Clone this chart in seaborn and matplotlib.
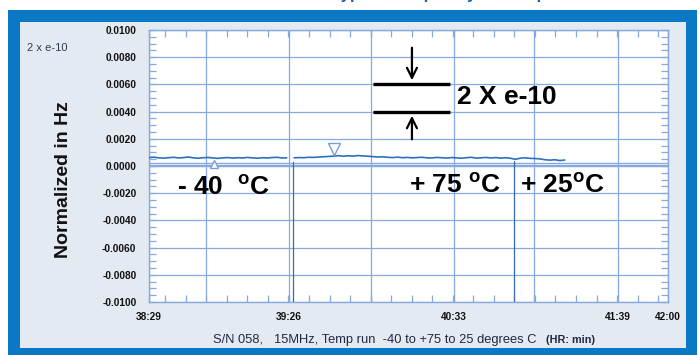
import numpy as np
import pandas as pd
import matplotlib
matplotlib.use("Agg")
import matplotlib.pyplot as plt
from matplotlib.patches import Rectangle
from matplotlib.ticker import FixedLocator, MultipleLocator, FuncFormatter
import seaborn as sns

# ---------------- data (minutes after 38:29) ----------------
x_tick_pos = [0, 23.3, 57, 90.3, 124, 156.5, 190.5, 211]
x_tick_labels = ["38:29", "", "39:26", "", "40:33", "", "41:39", "42:00"]

seg1_time = list(range(0, 58, 2))
seg1_vals = [6.2, 6.5, 6.0, 5.8, 6.1, 6.4, 5.9, 6.2, 6.6, 6.0, 5.7, 6.1, 6.3, 5.9,
             5.6, 6.0, 6.2, 5.8, 6.1, 5.9, 6.3, 6.0, 5.7, 6.1, 5.9, 6.2, 6.4, 5.9, 6.0]

seg2_time = list(range(59, 170, 2))
seg2_vals = [6.0, 6.2, 6.1, 6.4, 6.3, 6.6, 6.8, 7.0, 7.3, 7.6, 7.2, 7.5, 7.3, 7.7,
             7.4, 7.2, 6.9, 6.6, 6.8, 6.4, 6.2, 6.5, 6.1, 6.3, 6.0, 6.2, 6.4, 6.0,
             5.9, 6.3, 6.1, 5.8, 6.2, 6.0, 5.7, 6.1, 6.4, 5.8, 6.0, 6.3, 5.9, 6.2,
             5.8, 6.1, 5.7, 4.9, 5.8, 6.0, 5.6, 5.5, 5.2, 4.6, 4.3, 4.6, 4.0, 4.4]

scale = 1e-4
transition_times = [58.5, 148.4]
transition_tops = [0.0003, 0.0004]
marker_up = (26.4, 0.00015)
marker_down = (75.2, 0.00125)

# ---------------- style ----------------
sns.set_theme(style="white")
plt.rcParams["font.family"] = ["Liberation Sans", "DejaVu Sans"]
plt.rcParams["mathtext.fontset"] = "custom"
plt.rcParams["mathtext.rm"] = "Liberation Sans:bold"
plt.rcParams["mathtext.bf"] = "Liberation Sans:bold"

GRID = "#86aae0"
LINE = "#2d6fbd"
DARK = "#3a68ae"
FRAME = "#0a78c4"
PANEL = "#e4eaf2"

W, H = 700, 355
fig = plt.figure(figsize=(7, 3.55), dpi=100, facecolor="white")

def fx(px):
    return px / W

def fy(py):
    return (H - py) / H

# frame and panel
fig.patches.append(Rectangle((fx(8), fy(355)), fx(697) - fx(8), fy(10) - fy(355),
                             transform=fig.transFigure, facecolor=FRAME, edgecolor="none", zorder=0))
fig.patches.append(Rectangle((fx(20), fy(348)), fx(686) - fx(20), fy(22) - fy(348),
                             transform=fig.transFigure, facecolor=PANEL, edgecolor="none", zorder=0))

# clipped title at the very top (only descenders show, as in the reference)
fig.text(fx(332), 1.0 + 0.5 / H, "Typical Frequency vs Temperature", fontsize=12,
         fontweight="bold", color="#1d5ea6", ha="left", va="baseline")

ax = fig.add_axes([fx(149), fy(302), fx(668) - fx(149), fy(30) - fy(302)])
ax.set_facecolor("white")
ax.set_zorder(2)

df1 = pd.DataFrame({"t": seg1_time, "v": np.array(seg1_vals) * scale})
df2 = pd.DataFrame({"t": seg2_time, "v": np.array(seg2_vals) * scale})
sns.lineplot(data=df1, x="t", y="v", ax=ax, color=LINE, lw=1.2, zorder=4)
sns.lineplot(data=df2, x="t", y="v", ax=ax, color=LINE, lw=1.2, zorder=4)

# zero reference lines
ax.axhline(0.0, color=GRID, lw=1.6, zorder=3)
ax.axhline(0.00022, color=GRID, lw=1.0, zorder=3)

# transition lines
for t, top in zip(transition_times, transition_tops):
    ax.plot([t, t], [top, -0.01], color=DARK, lw=0.9, zorder=3)

# markers
ax.plot([marker_up[0]], [marker_up[1]], marker="^", ms=6, mfc="white", mec="#7a9fd8", mew=1, zorder=5)
ax.plot([marker_down[0]], [marker_down[1]], marker="v", ms=8, mfc="white", mec="#7a9fd8", mew=1, zorder=5)

ax.set_xlim(0, 211)
ax.set_ylim(-0.01, 0.01)

ax.xaxis.set_major_locator(FixedLocator(x_tick_pos))
ax.set_xticklabels(x_tick_labels)
ax.xaxis.set_minor_locator(FixedLocator(list(np.arange(23.3 - 2 * 8.35, 211, 8.35))))
ax.yaxis.set_major_locator(MultipleLocator(0.002))
ax.yaxis.set_minor_locator(MultipleLocator(0.0005))
ax.yaxis.set_major_formatter(FuncFormatter(lambda v, p: f"{v:.4f}" if abs(v) > 1e-9 else "0.0000"))

ax.grid(True, which="major", color=GRID, lw=0.9)
for s in ax.spines.values():
    s.set_color(GRID)
    s.set_linewidth(1.0)
ax.tick_params(which="both", direction="in", color=GRID, top=True, right=True,
               bottom=True, left=True, width=0.9)
ax.tick_params(which="major", length=5)
ax.tick_params(which="minor", length=5)
ax.tick_params(axis="y", labelsize=7.3, pad=9, labelcolor="#111111")
ax.tick_params(axis="x", labelsize=7.3, pad=7, labelcolor="#111111")
for lab in ax.get_xticklabels() + ax.get_yticklabels():
    lab.set_fontweight("bold")
ax.set_xlabel("")
ax.set_ylabel("")

# annotations
ax.plot([91.1, 122.4], [0.006, 0.006], color="black", lw=2.4, zorder=6, solid_capstyle="butt")
ax.plot([91.1, 122.4], [0.004, 0.004], color="black", lw=2.4, zorder=6, solid_capstyle="butt")
ax.annotate("", xy=(106.9, 0.0061), xytext=(106.9, 0.0089),
            arrowprops=dict(arrowstyle="->,head_length=0.6,head_width=0.3", color="black", lw=1.6), zorder=6)
ax.annotate("", xy=(106.9, 0.0039), xytext=(106.9, 0.00176),
            arrowprops=dict(arrowstyle="->,head_length=0.6,head_width=0.3", color="black", lw=1.6), zorder=6)
ax.text(125.2, 0.0051, "2 X e-10", fontsize=19, fontweight="bold", color="black",
        ha="left", va="center", zorder=6)

ax.text(11.4, -0.00213, r"- 40  $^{\rm o}$C", fontsize=19, fontweight="bold", color="black",
        ha="left", va="baseline", zorder=6)
ax.text(105.7, -0.00199, r"+ 75 $^{\rm o}$C", fontsize=19, fontweight="bold", color="black",
        ha="left", va="baseline", zorder=6)
ax.text(150.8, -0.00199, r"+ 25$^{\rm o}$C", fontsize=19, fontweight="bold", color="black",
        ha="left", va="baseline", zorder=6)

# figure texts
fig.text(fx(63), fy(180), "Normalized in Hz", rotation=90, fontsize=14, fontweight="bold",
         color="#111111", ha="center", va="center")
fig.text(fx(27), fy(48), "2 x e-10", fontsize=8, color="#2b3b55", ha="left", va="center")
fig.text(fx(213), fy(340), "S/N 058,   15MHz, Temp run  -40 to +75 to 25 degrees C",
         fontsize=9.3, color="#1e2a44", ha="left", va="center")
fig.text(fx(546), fy(340), "(HR: min)", fontsize=7.8, fontweight="bold",
         color="#1e2a44", ha="left", va="center")

fig.savefig("out.png", dpi=100, facecolor="white")
